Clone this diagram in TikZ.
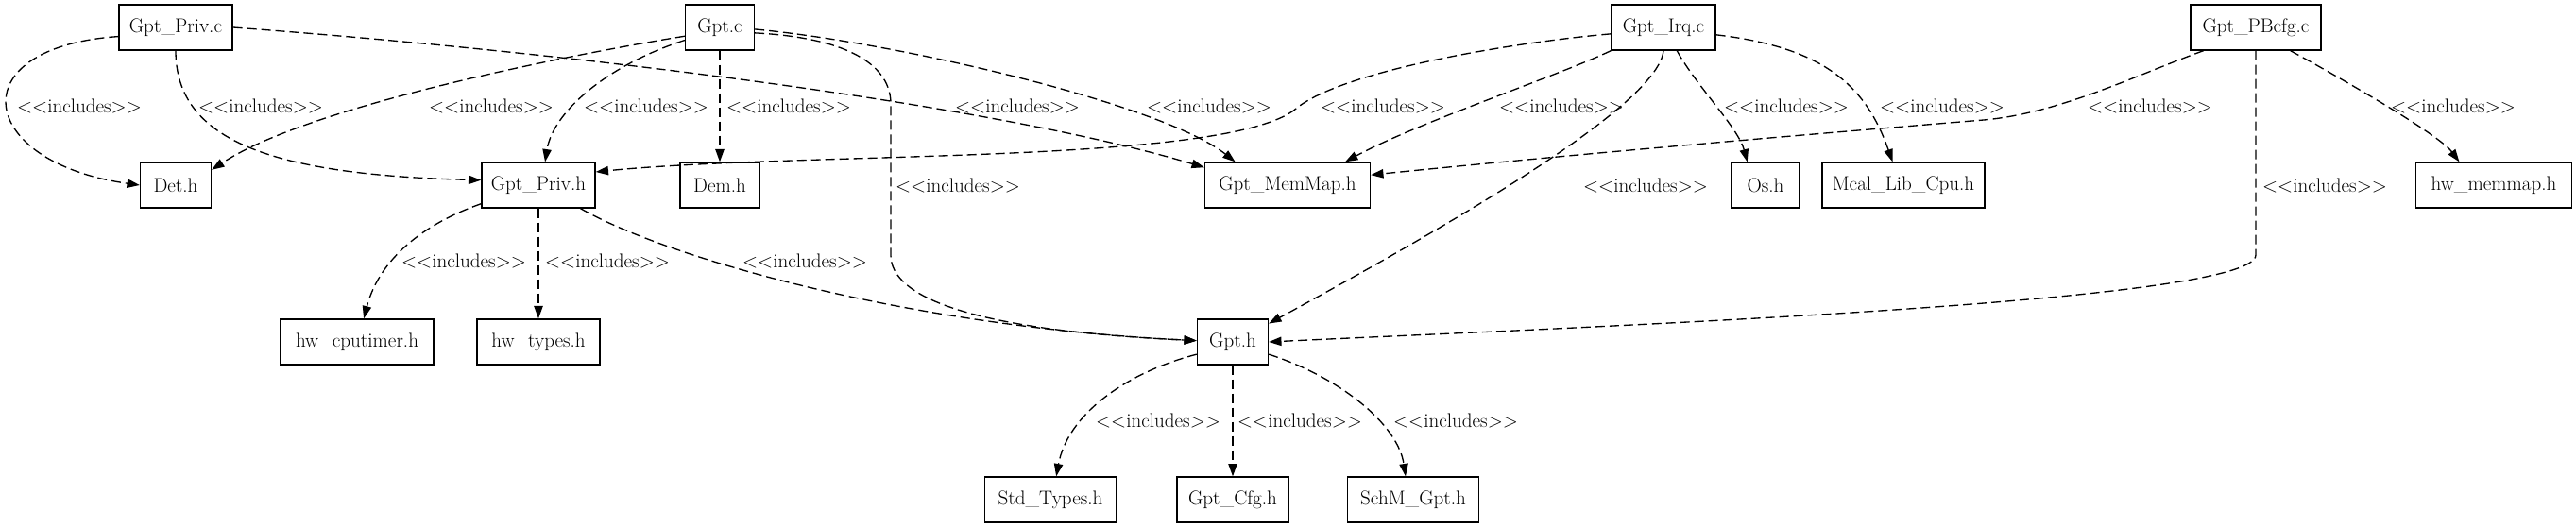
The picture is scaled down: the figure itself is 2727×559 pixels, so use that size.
\documentclass[tikz,border=0pt]{standalone}
\usetikzlibrary{arrows.meta}
\newcommand\inctext{<\kern0pt<includes>\kern0pt>}
\begin{document}
\begin{tikzpicture}[x=0.75pt,y=-0.75pt,
  filebox/.style={draw=black, line width=1pt, minimum height=36pt, inner sep=0pt, font=\fontsize{15.8}{19}\selectfont},
  bw/.style={minimum width=#1*0.75pt},
  inclabel/.style={inner sep=0pt, font=\fontsize{15.8}{19}\selectfont},
  dep/.style={line width=1pt, dash pattern=on 7.5pt off 3.75pt, -{Triangle[length=10pt,width=7pt]}}]
\useasboundingbox (0,0) rectangle (2727,559);
% nodes
\node[filebox,bw=120] (privc) at (186,29) {Gpt\_Priv.c};
\node[filebox,bw=73]  (gptc) at (762,29) {Gpt.c};
\node[filebox,bw=110] (irq) at (1761,29) {Gpt\_Irq.c};
\node[filebox,bw=138] (pbcfg) at (2388,29) {Gpt\_PBcfg.c};
\node[filebox,bw=75]  (deth) at (186,196) {Det.h};
\node[filebox,bw=120] (privh) at (570,196) {Gpt\_Priv.h};
\node[filebox,bw=84]  (demh) at (762,196) {Dem.h};
\node[filebox,bw=175] (memmap) at (1363,196) {Gpt\_MemMap.h};
\node[filebox,bw=72]  (osh) at (1869,196) {Os.h};
\node[filebox,bw=172] (mcal) at (2015,196) {Mcal\_Lib\_Cpu.h};
\node[filebox,bw=165] (hwmm) at (2640,196) {hw\_memmap.h};
\node[filebox,bw=162] (hwcpu) at (378,362) {hw\_cputimer.h};
\node[filebox,bw=130] (hwtypes) at (570,362) {hw\_types.h};
\node[filebox,bw=75]  (gpth) at (1305,362) {Gpt.h};
\node[filebox,bw=139] (std) at (1112,529) {Std\_Types.h};
\node[filebox,bw=118] (cfg) at (1305,529) {Gpt\_Cfg.h};
\node[filebox,bw=139] (schm) at (1496,529) {SchM\_Gpt.h};
% edges
\draw[dep] (privc.189) .. controls (-45,50) and (-25,172) .. (deth.west);
\draw[dep] (privc.south) .. controls (186,150) and (290,185) .. (privh.175);
\draw[dep] (privc.east) .. controls (600,55) and (1050,110) .. (memmap.168);
\draw[dep] (gptc.194) .. controls (620,55) and (330,110) .. (deth.23);
\draw[dep] (gptc.200) .. controls (640,70) and (585,120) .. (privh.74);
\draw[dep] (gptc.south) -- (demh.north);
\draw[dep] (gptc.-3) .. controls (950,45) and (1230,110) .. (memmap.156);
\draw[dep] (gptc.-9) .. controls (900,40) and (943,70) .. (943,110) -- (943,270) .. controls (943,340) and (1150,355) .. (gpth.178);
\draw[dep] (privh.-29) .. controls (700,270) and (950,345) .. (gpth.178);
\draw[dep] (privh.198) .. controls (440,240) and (400,280) .. (hwcpu.74);
\draw[dep] (privh.south) -- (hwtypes.north);
\draw[dep] (irq.187) .. controls (1600,45) and (1420,75) .. (1372,115) .. controls (1300,175) and (850,160) .. (privh.13);
\draw[dep] (irq.south west) .. controls (1650,80) and (1500,130) .. (memmap.22);
\draw[dep] (irq.south) .. controls (1755,110) and (1550,230) .. (gpth.27);
\draw[dep] (irq.-60) .. controls (1795,90) and (1840,135) .. (osh.128);
\draw[dep] (irq.-8) .. controls (1930,50) and (1975,90) .. (mcal.115);
\draw[dep] (pbcfg.204) .. controls (2260,80) and (2180,120) .. (2100,127) .. controls (1880,145) and (1650,165) .. (memmap.7);
\draw[dep] (pbcfg.-34) .. controls (2455,70) and (2580,140) .. (hwmm.146);
\draw[dep] (pbcfg.south) -- (2388,270) .. controls (2388,320) and (1700,345) .. (gpth.east);
\draw[dep] (gpth.199) .. controls (1190,395) and (1130,440) .. (std.76);
\draw[dep] (gpth.south) -- (cfg.north);
\draw[dep] (gpth.-19) .. controls (1420,400) and (1480,450) .. (schm.108);
% labels
\node[inclabel] (l1) at (84,112) {\inctext};
\node[inclabel] (l2) at (276,112) {\inctext};
\node[inclabel] (l3) at (520,112) {\inctext};
\node[inclabel] (l4) at (684,112) {\inctext};
\node[inclabel] (l5) at (835,112) {\inctext};
\node[inclabel] (l6) at (1077,112) {\inctext};
\node[inclabel] (l7) at (1280,112) {\inctext};
\node[inclabel] (l8) at (1464,112) {\inctext};
\node[inclabel] (l9) at (1653,112) {\inctext};
\node[inclabel] (l10) at (1891,112) {\inctext};
\node[inclabel] (l11) at (2056,112) {\inctext};
\node[inclabel] (l12) at (2276,112) {\inctext};
\node[inclabel] (l13) at (2597,112) {\inctext};
\node[inclabel] (l14) at (1014,196) {\inctext};
\node[inclabel] (l15) at (1742,196) {\inctext};
\node[inclabel] (l16) at (2461,196) {\inctext};
\node[inclabel] (l17) at (491,276) {\inctext};
\node[inclabel] (l18) at (643,276) {\inctext};
\node[inclabel] (l19) at (852,276) {\inctext};
\node[inclabel] (l20) at (1226,445) {\inctext};
\node[inclabel] (l21) at (1376,445) {\inctext};
\node[inclabel] (l22) at (1541,445) {\inctext};
\end{tikzpicture}
\end{document}
